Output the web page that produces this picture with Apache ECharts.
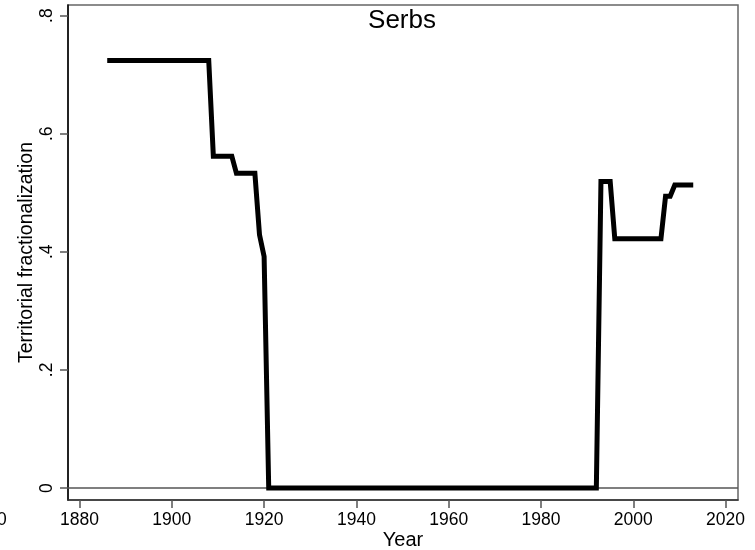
<!DOCTYPE html>
<html>
<head>
<meta charset="utf-8">
<script src="https://cdn.jsdelivr.net/npm/echarts@6/dist/echarts.min.js"></script>
<style>
  html, body { margin: 0; padding: 0; background: #fff; }
</style>
</head>
<body>
<div id="chart" style="width: 755px; height: 550px;"></div>
<script>
// data (change points of the yearly series)
const years = [1886, 1908, 1909, 1913, 1914, 1918, 1919, 1920, 1921, 1992, 1993, 1995, 1996, 2006, 2007, 2008, 2009, 2013]
const values = [0.724, 0.724, 0.562, 0.562, 0.533, 0.533, 0.429, 0.392, 0, 0, 0.519, 0.519, 0.422, 0.422, 0.494, 0.494, 0.513, 0.513]
const xTicks = [1880, 1900, 1920, 1940, 1960, 1980, 2000, 2020]
const yTicks = [0, 0.2, 0.4, 0.6, 0.8]
const titleText = 'Serbs'
const xTitle = 'Year'
const yTitle = 'Territorial fractionalization'

const font = 'Liberation Sans, Arial, Helvetica, sans-serif'
const chart = echarts.init(document.getElementById('chart'))

chart.setOption({
  backgroundColor: '#fff',
  animation: false,
  title: {
    text: titleText,
    left: 397,
    top: 3,
    textAlign: 'center',
    textStyle: { fontFamily: font, fontSize: 26, fontWeight: 'normal', color: '#000' }
  },
  grid: {
    left: 68,
    right: 17,
    top: 5,
    bottom: 50,
    outerBoundsMode: 'none',
    containLabel: false,
    show: true,
    borderColor: '#666',
    borderWidth: 1.5
  },
  xAxis: {
    type: 'value',
    min: 1877.5,
    max: 2022.7,
    name: xTitle,
    nameLocation: 'middle',
    nameGap: 30,
    nameMoveOverlap: false,
    nameTextStyle: { fontFamily: font, fontSize: 20, color: '#000' },
    axisLine: { show: true, onZero: false, lineStyle: { color: '#333', width: 1.5 } },
    axisTick: { show: true, length: 8, customValues: xTicks, lineStyle: { color: '#555', width: 1.5 } },
    axisLabel: {
      customValues: xTicks,
      margin: 11,
      fontFamily: font,
      fontSize: 17.5,
      color: '#000',
      formatter: v => String(v)
    },
    splitLine: { show: false }
  },
  yAxis: {
    type: 'value',
    min: -0.0203,
    max: 0.818,
    name: yTitle,
    nameLocation: 'middle',
    nameGap: 31,
    nameMoveOverlap: false,
    nameTextStyle: { fontFamily: font, fontSize: 19.5, color: '#000' },
    axisLine: { show: true, onZero: false, lineStyle: { color: '#000', width: 1.5 } },
    axisTick: { show: true, length: 8, customValues: yTicks, lineStyle: { color: '#555', width: 1.5 } },
    axisLabel: {
      customValues: yTicks,
      rotate: 90,
      margin: 12,
      fontFamily: font,
      fontSize: 17.5,
      color: '#000',
      formatter: v => v === 0 ? '0' : String(+v.toFixed(1)).replace(/^0/, '')
    },
    splitLine: { show: false }
  },
  series: [
    {
      type: 'line',
      data: years.map((y, i) => [y, values[i]]),
      showSymbol: false,
      z: 3,
      lineStyle: { color: '#000', width: 5, join: 'miter' },
      markLine: {
        silent: true,
        symbol: 'none',
        label: { show: false },
        lineStyle: { color: '#555', width: 1.5, type: 'solid' },
        data: [{ yAxis: 0 }],
        z: 2
      }
    }
  ]
})

// Stata leaves the tick label of 1860 peeking in at the left edge
const px = chart.convertToPixel({ xAxisIndex: 0 }, 1860)
const py = chart.convertToPixel({ yAxisIndex: 0 }, -0.0203)
chart.setOption({
  graphic: [{
    type: 'text',
    x: px,
    y: py + 11,
    style: { text: '1860', fontFamily: font, fontSize: 17.5, fill: '#000', align: 'center', verticalAlign: 'top' }
  }]
})

window.addEventListener('resize', () => { chart.resize() })
</script>
</body>
</html>
